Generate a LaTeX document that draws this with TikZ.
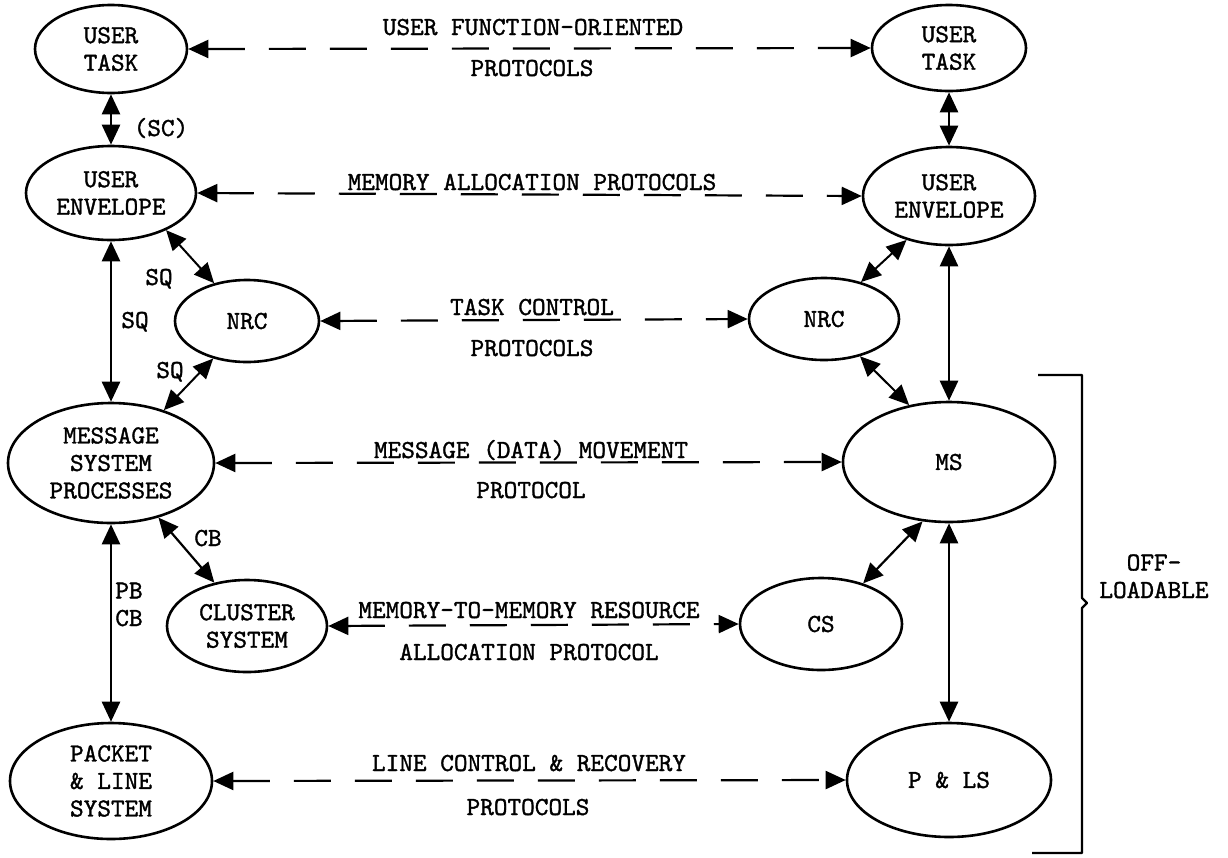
\documentclass[tikz,border=0pt]{standalone}
\usepackage{fontspec}
\setmonofont{lmmono10-regular.otf}[FakeBold=1.3]
\usetikzlibrary{shapes.geometric,arrows.meta}
\begin{document}
\begin{tikzpicture}[x=1pt,y=-1pt,
  font=\ttfamily\fontsize{26}{27.5}\selectfont,
  >={Triangle[length=20pt,width=18pt]},
  proc/.style={ellipse,draw,line width=2.6pt,inner sep=0pt,align=center},
  link/.style={<->,line width=2.6pt},
  dlink/.style={<->,line width=2.2pt,dash pattern=on 37pt off 24pt},
  lbl/.style={anchor=base,inner sep=0pt,align=center}]
\useasboundingbox (0,0) rectangle (1228,857);
% left column
\node[proc,minimum width=152pt,minimum height=88pt] (ut1) at (111,49) {USER\\TASK};
\node[proc,minimum width=170pt,minimum height=94pt] (ue1) at (111,193) {USER\\ENVELOPE};
\node[proc,minimum width=144pt,minimum height=82pt] (nrc1) at (247,321) {NRC};
\node[proc,minimum width=206pt,minimum height=120pt] (msp) at (111,463) {MESSAGE\\SYSTEM\\PROCESSES};
\node[proc,minimum width=160pt,minimum height=92pt] (cl) at (247,626) {CLUSTER\\SYSTEM};
\node[proc,minimum width=202pt,minimum height=116pt] (pl) at (111,781) {PACKET\\\& LINE\\SYSTEM};
% right column
\node[proc,minimum width=154pt,minimum height=86pt] (ut2) at (949,48) {USER\\TASK};
\node[proc,minimum width=172pt,minimum height=98pt] (ue2) at (949,196) {USER\\ENVELOPE};
\node[proc,minimum width=150pt,minimum height=82pt] (nrc2) at (824,319) {NRC};
\node[proc,minimum width=212pt,minimum height=120pt] (ms) at (949,462) {MS};
\node[proc,minimum width=162pt,minimum height=92pt] (cs) at (821,624) {CS};
\node[proc,minimum width=204pt,minimum height=114pt] (pls) at (949,780) {P \& LS};
% solid links, left
\draw[link] (ut1.south) -- (ue1.north);
\draw[link] (ue1.south) -- (msp.north);
\draw[link] (msp.south) -- (pl.north);
\draw[link,line width=2pt] (ue1.-34.6) -- (nrc1.131);
\draw[link,line width=2pt] (nrc1.228) -- (msp.45);
\draw[link,line width=2.2pt] (msp.-49.5) -- (cl.127.7);
% solid links, right
\draw[link] (ut2.south) -- (ue2.north);
\draw[link] (ue2.south) -- (ms.north);
\draw[link] (ms.south) -- (pls.north);
\draw[link,line width=2pt] (ue2.226.3) -- (nrc2.45);
\draw[link,line width=2pt] (nrc2.-46.4) -- (ms.125.3);
\draw[link,line width=2.2pt] (ms.246.6) -- (cs.44.3);
% dashed protocol links
\draw[dlink] (ut1.east) -- (ut2.west);
\draw[dlink] (ue1.east) -- (ue2.west);
\draw[dlink] (nrc1.east) -- (nrc2.west);
\draw[dlink] (msp.east) -- (ms.west);
\draw[dlink] (cl.east) -- (cs.west);
\draw[dlink] (pl.east) -- (pls.west);
% protocol labels
\node[lbl] (p1a) at (533,35) {USER FUNCTION-ORIENTED};
\node[lbl] (p1b) at (532,76) {PROTOCOLS};
\node[lbl] (p2a) at (532,190) {MEMORY ALLOCATION PROTOCOLS};
\node[lbl] (p3a) at (532,315) {TASK CONTROL};
\node[lbl] (p3b) at (532,356) {PROTOCOLS};
\node[lbl] (p4a) at (531,458) {MESSAGE (DATA) MOVEMENT};
\node[lbl] (p4b) at (531,498) {PROTOCOL};
\node[lbl] (p5a) at (529,618) {MEMORY-TO-MEMORY RESOURCE};
\node[lbl] (p5b) at (529,660) {ALLOCATION PROTOCOL};
\node[lbl] (p6a) at (529,771) {LINE CONTROL \& RECOVERY};
\node[lbl] (p6b) at (528,815) {PROTOCOLS};
% link labels
\node[lbl] (sc) at (161,136) {(SC)};
\node[lbl] (sq1) at (159,285) {SQ};
\node[lbl] (sq2) at (135,328) {SQ};
\node[lbl] (sq3) at (170,378) {SQ};
\node[lbl] (cb1) at (208,546) {CB};
\node[lbl] (pbcb) at (129,626) {PB\\CB};
% off-loadable bracket
\coordinate (bt) at (1038,375);
\coordinate (bb) at (1032,853);
\draw[line width=2.4pt,line join=round] (bt) -- (1082,375) -- (1082,598) -- (1087,603) -- (1082,608) -- (1082,853) -- (bb);
\node[lbl] (off) at (1154,598) {OFF-\\LOADABLE};
\end{tikzpicture}
\end{document}
